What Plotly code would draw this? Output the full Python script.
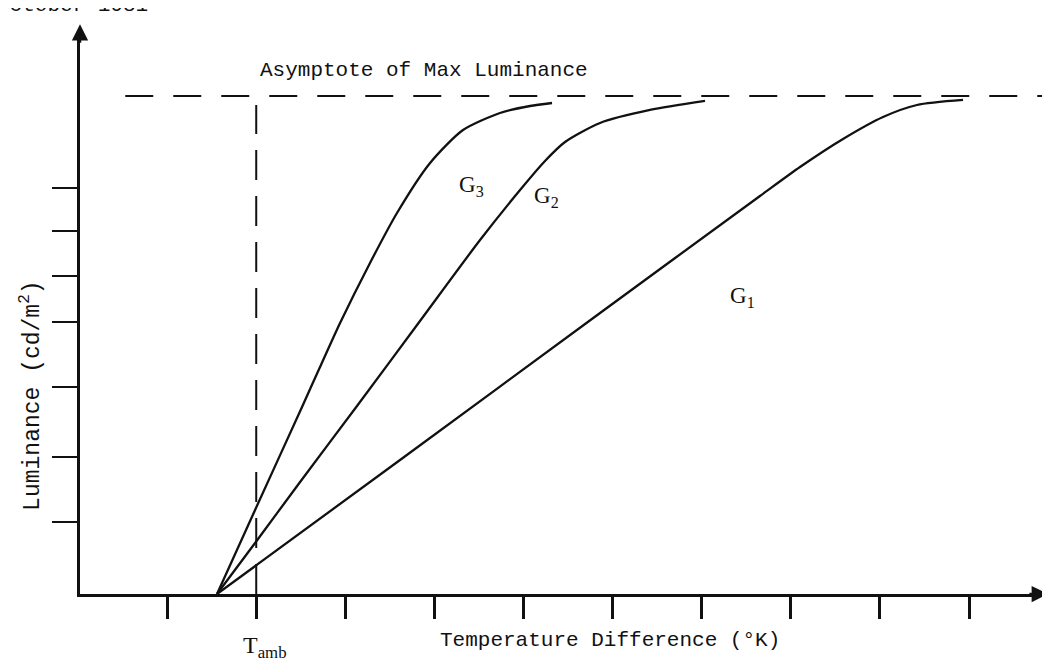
import plotly.graph_objects as go

# Curve data (x in tick units of temperature difference, y in relative luminance; asymptote = 10)
g3_x = [1.560, 1.987, 2.514, 2.716, 2.941, 3.277, 3.580, 3.951, 4.321, 4.736, 5.073, 5.320]
g3_y = [0.0, 1.687, 3.755, 4.558, 5.442, 6.647, 7.651, 8.655, 9.317, 9.659, 9.799, 9.859]

g2_x = [1.560, 1.987, 2.492, 3.131, 3.838, 4.512, 4.961, 5.241, 5.466, 5.859, 6.420, 7.037]
g2_y = [0.0, 1.024, 2.249, 3.775, 5.482, 7.108, 8.112, 8.695, 9.076, 9.458, 9.719, 9.900]

g1_x = [1.560, 3.614, 5.859, 7.654, 8.103, 8.586, 9.035, 9.416, 9.933]
g1_y = [0.0, 2.691, 5.643, 7.992, 8.574, 9.137, 9.578, 9.819, 9.920]

asym_x = [0.53, 10.85]
asym_y = [10.0, 10.0]
tamb_x = [2.0, 2.0]
tamb_y = [0.0, 9.82]

x_ticks = [1, 2, 3, 4, 5, 6, 7, 8, 9, 10]
y_ticks = [1.45, 2.75, 4.16, 5.46, 6.39, 7.29, 8.15]

labels = ["G<sub>3</sub>", "G<sub>2</sub>", "G<sub>1</sub>"]
label_x = [4.42, 5.26, 7.46]
label_y = [8.19, 7.97, 5.96]

MONO = "Liberation Mono"
SERIF = "Liberation Serif"
INK = "#111111"

fig = go.Figure()
for xs, ys in [(g3_x, g3_y), (g2_x, g2_y), (g1_x, g1_y)]:
    fig.add_trace(go.Scatter(x=xs, y=ys, mode="lines",
                             line=dict(color=INK, width=2.3, shape="spline", smoothing=0.7),
                             showlegend=False, hoverinfo="skip"))

fig.add_trace(go.Scatter(x=asym_x, y=asym_y, mode="lines",
                         line=dict(color=INK, width=2, dash="28px,20px"),
                         showlegend=False, hoverinfo="skip", cliponaxis=False))
fig.add_trace(go.Scatter(x=tamb_x, y=tamb_y, mode="lines",
                         line=dict(color=INK, width=2, dash="30px,16px"),
                         showlegend=False, hoverinfo="skip"))

annotations = []
for t, lx, ly in zip(labels, label_x, label_y):
    annotations.append(dict(x=lx, y=ly, xref="x", yref="y", text=t, showarrow=False,
                            xanchor="center", yanchor="middle",
                            font=dict(family=SERIF, size=23, color=INK)))

annotations += [
    dict(x=3.88, y=10.52, xref="x", yref="y", text="Asymptote of Max Luminance",
         xanchor="center", yanchor="middle",
         showarrow=False, font=dict(family=MONO, size=21, color=INK)),
    dict(x=0.549, y=-0.0833, xref="paper", yref="paper", text="Temperature Difference (°K)",
         xanchor="center", yanchor="middle",
         showarrow=False, font=dict(family=MONO, size=21, color=INK)),
    dict(x=2.10, y=-0.094, xref="x", yref="paper", text="T<sub>amb</sub>",
         xanchor="center", yanchor="middle",
         showarrow=False, font=dict(family=SERIF, size=24, color=INK)),
    dict(x=-0.0508, y=0.353, xref="paper", yref="paper", text="Luminance (cd/m<sup>2</sup>)",
         xanchor="center", yanchor="middle",
         textangle=-90, showarrow=False, font=dict(family=MONO, size=23, color=INK)),
    dict(x=-0.088, y=1.0426, xref="paper", yref="paper", text="October 1981",
         xanchor="left", yanchor="middle",
         showarrow=False, font=dict(family=MONO, size=21, color=INK)),
    # axis arrowheads
    dict(x=0, y=1.01, xref="paper", yref="paper", ax=0, ay=20,
         showarrow=True, arrowhead=2, arrowsize=1.3, arrowwidth=2.5, arrowcolor=INK, text=""),
    dict(x=1.003, y=0, xref="paper", yref="paper", ax=-20, ay=0,
         showarrow=True, arrowhead=2, arrowsize=1.3, arrowwidth=2.5, arrowcolor=INK, text=""),
]

# The page has an 8px body margin; size the figure so the plot area lands in place.
fig.update_layout(
    width=1042, height=655,
    margin=dict(l=72, r=5, t=22, b=69),
    paper_bgcolor="white", plot_bgcolor="white",
    annotations=annotations,
    xaxis=dict(range=[0.022, 10.853], showline=True, linewidth=2.5, linecolor=INK,
               ticks="outside", tickvals=x_ticks, ticktext=[""] * len(x_ticks),
               ticklen=22, tickwidth=2.5, tickcolor=INK, showgrid=False, zeroline=False),
    yaxis=dict(range=[0, 11.325], showline=True, linewidth=2.5, linecolor=INK,
               ticks="outside", tickvals=y_ticks, ticktext=[""] * len(y_ticks),
               ticklen=25, tickwidth=2.2, tickcolor=INK, showgrid=False, zeroline=False),
)

fig.write_html("out.html")
